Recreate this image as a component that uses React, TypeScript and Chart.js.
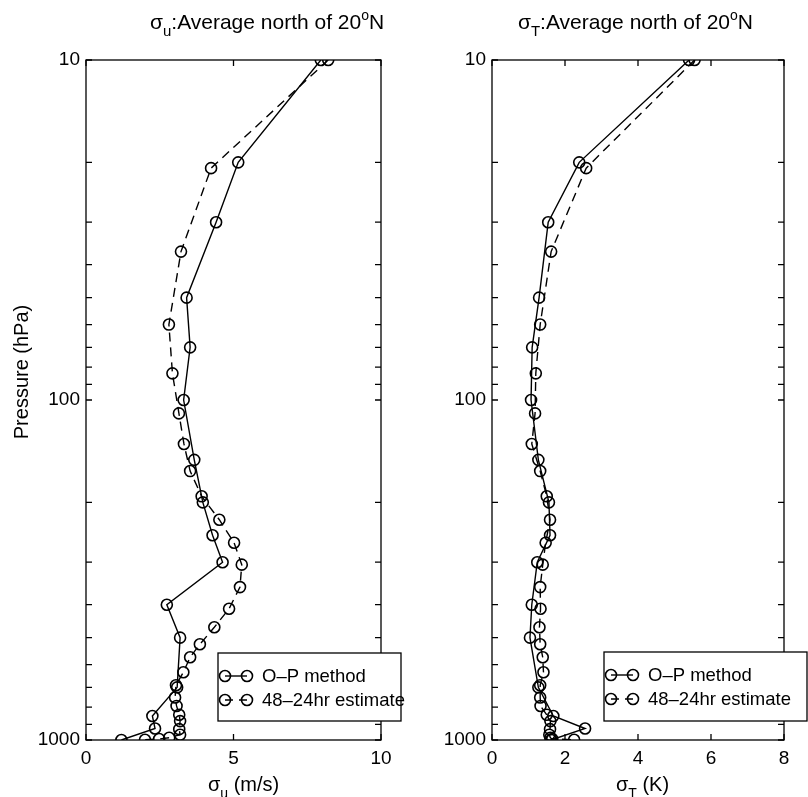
import React, { useEffect, useRef } from 'react';
import { Chart, registerables } from 'chart.js';

Chart.register(...registerables);

// ---------------- data ----------------
const pressureOP = [10, 20, 30, 50, 70, 100, 150, 200, 250, 300, 400, 500, 700, 850, 925, 1000];
const pressureEst = [10, 20.8, 36.6, 60, 83.5, 109.5, 134.7, 161.8, 192, 225, 263, 305, 355, 411, 466, 523, 571, 632, 690, 750, 794, 843, 880, 929, 965, 985, 993, 998];

const sigmaU_OP = [7.96, 5.16, 4.41, 3.41, 3.53, 3.31, 3.67, 3.96, 4.29, 4.63, 2.74, 3.19, 3.09, 2.25, 2.34, 1.2];
const sigmaU_Est = [8.21, 4.24, 3.22, 2.81, 2.93, 3.15, 3.32, 3.53, 3.92, 4.52, 5.02, 5.28, 5.22, 4.85, 4.35, 3.86, 3.53, 3.3, 3.05, 3.02, 3.07, 3.16, 3.19, 3.16, 3.19, 2.82, 2.48, 2.0];

const sigmaT_OP = [5.4, 2.39, 1.54, 1.29, 1.1, 1.07, 1.27, 1.56, 1.59, 1.24, 1.09, 1.04, 1.27, 1.68, 2.55, 1.62];
const sigmaT_Est = [5.55, 2.58, 1.62, 1.32, 1.2, 1.18, 1.09, 1.32, 1.5, 1.59, 1.47, 1.39, 1.32, 1.33, 1.3, 1.32, 1.39, 1.41, 1.32, 1.32, 1.33, 1.5, 1.6, 1.59, 1.57, 1.6, 1.65, 2.25];

const xTicksU = [0, 5, 10];
const xTicksT = [0, 2, 4, 6, 8];
const yTickValues = [10, 20, 30, 40, 50, 60, 70, 80, 90, 100, 200, 300, 400, 500, 600, 700, 800, 900, 1000];
const yTickLabels = [10, 100, 1000];
const legendLabels = ['O\u2013P method', '48\u201324hr estimate'];

const FONT = '"Liberation Sans", Arial, Helvetica, sans-serif';
const CH = 797;

type Part = { t: string; size: number; dy?: number };

function drawRich(ctx: CanvasRenderingContext2D, x: number, y: number, parts: Part[]) {
  ctx.textAlign = 'left';
  ctx.textBaseline = 'alphabetic';
  ctx.fillStyle = '#000';
  for (const p of parts) {
    ctx.font = `${p.size}px ${FONT}`;
    ctx.fillText(p.t, x, y + (p.dy || 0));
    x += ctx.measureText(p.t).width;
  }
}

type PanelProps = {
  left: number;
  cw: number;
  xMax: number;
  xTicks: number[];
  opVals: number[];
  estVals: number[];
  yAxisWidth: number;
  plotRight: number;
  sub: string;
  titleX: number;
  xTitleX: number;
  xUnit: string;
  showYTitle: boolean;
  legend: { x0: number; x1: number; y0: number; y1: number; m1: number; m2: number; tx: number };
};

function Panel(props: PanelProps) {
  const ref = useRef<HTMLCanvasElement | null>(null);
  useEffect(() => {
    const canvas = ref.current;
    if (!canvas) return;
    const {
      cw, xMax, xTicks, opVals, estVals, yAxisWidth, plotRight, sub, titleX, xTitleX, xUnit, showYTitle, legend,
    } = props;

    const decor = {
      id: 'decor',
      afterDraw(chart: any) {
        const ctx: CanvasRenderingContext2D = chart.ctx;
        const a = chart.chartArea;
        const xs = chart.scales.x;
        const ys = chart.scales.y;
        ctx.save();
        ctx.strokeStyle = '#000';
        ctx.lineWidth = 1.3;
        ctx.setLineDash([]);
        ctx.strokeRect(a.left, a.top, a.right - a.left, a.bottom - a.top);
        const tl = 6;
        ctx.beginPath();
        for (const v of yTickValues) {
          const y = ys.getPixelForValue(v);
          ctx.moveTo(a.left, y); ctx.lineTo(a.left + tl, y);
          ctx.moveTo(a.right, y); ctx.lineTo(a.right - tl, y);
        }
        for (const v of xTicks) {
          const x = xs.getPixelForValue(v);
          ctx.moveTo(x, a.bottom); ctx.lineTo(x, a.bottom - tl);
          ctx.moveTo(x, a.top); ctx.lineTo(x, a.top + tl);
        }
        ctx.stroke();

        // title
        drawRich(ctx, titleX, 29, [
          { t: '\u03c3', size: 21 },
          { t: sub, size: 15, dy: 7 },
          { t: ':Average north of 20', size: 21 },
          { t: 'o', size: 14, dy: -9 },
          { t: 'N', size: 21 },
        ]);
        // x title
        drawRich(ctx, xTitleX, 791, [
          { t: '\u03c3', size: 20 },
          { t: sub, size: 14, dy: 7 },
          { t: ' (' + xUnit + ')', size: 20 },
        ]);
        // y title
        if (showYTitle) {
          ctx.save();
          ctx.translate(22, 372);
          ctx.rotate(-Math.PI / 2);
          ctx.font = `20px ${FONT}`;
          ctx.textAlign = 'center';
          ctx.textBaseline = 'middle';
          ctx.fillStyle = '#000';
          ctx.fillText('Pressure (hPa)', 0, 0);
          ctx.restore();
        }

        // legend
        const L = legend;
        ctx.fillStyle = '#fff';
        ctx.fillRect(L.x0, L.y0, L.x1 - L.x0, L.y1 - L.y0);
        ctx.lineWidth = 1.3;
        ctx.strokeRect(L.x0, L.y0, L.x1 - L.x0, L.y1 - L.y0);
        const rows = [L.y0 + 23, L.y0 + 47];
        rows.forEach((ry, i) => {
          ctx.lineWidth = 1.4;
          ctx.setLineDash(i === 0 ? [] : [8, 6]);
          ctx.beginPath();
          ctx.moveTo(L.m1, ry); ctx.lineTo(L.m2, ry);
          ctx.stroke();
          ctx.setLineDash([]);
          ctx.lineWidth = 1.6;
          for (const mx of [L.m1, L.m2]) {
            ctx.beginPath();
            ctx.arc(mx, ry, 5.5, 0, Math.PI * 2);
            ctx.stroke();
          }
          ctx.font = `18.5px ${FONT}`;
          ctx.fillStyle = '#000';
          ctx.textAlign = 'left';
          ctx.textBaseline = 'middle';
          ctx.fillText(legendLabels[i], L.tx, ry + 1);
        });
        ctx.restore();
      },
    };

    const mk = (vals: number[], pres: number[]) => vals.map((v, i) => ({ x: v, y: pres[i] }));

    const chart = new Chart(canvas, {
      type: 'scatter',
      data: {
        datasets: [
          {
            label: legendLabels[0],
            data: mk(opVals, pressureOP),
            showLine: true,
            borderColor: '#000',
            borderWidth: 1.4,
            pointRadius: 5.5,
            pointBorderWidth: 1.6,
            pointBorderColor: '#000',
            pointBackgroundColor: 'rgba(0,0,0,0)',
          },
          {
            label: legendLabels[1],
            data: mk(estVals, pressureEst),
            showLine: true,
            borderColor: '#000',
            borderWidth: 1.4,
            borderDash: [9, 6],
            pointRadius: 5.5,
            pointBorderWidth: 1.6,
            pointBorderColor: '#000',
            pointBackgroundColor: 'rgba(0,0,0,0)',
          },
        ],
      },
      options: {
        animation: false,
        responsive: false,
        devicePixelRatio: 1,
        layout: { padding: { left: 0, top: 60, right: cw - plotRight, bottom: 0 } },
        plugins: { legend: { display: false }, tooltip: { enabled: false }, title: { display: false } },
        scales: {
          x: {
            type: 'linear',
            min: 0,
            max: xMax,
            afterBuildTicks: (s: any) => { s.ticks = xTicks.map((v) => ({ value: v })); },
            afterFit: (s: any) => { s.height = 57; },
            ticks: { font: { family: FONT, size: 19 }, color: '#000', padding: 7, maxRotation: 0, autoSkip: false },
            grid: { display: false, drawTicks: false },
            border: { display: false },
          },
          y: {
            type: 'logarithmic',
            reverse: true,
            min: 10,
            max: 1000,
            afterBuildTicks: (s: any) => { s.ticks = yTickValues.map((v) => ({ value: v })); },
            afterFit: (s: any) => { s.width = yAxisWidth; },
            ticks: {
              font: { family: FONT, size: 19 },
              color: '#000',
              padding: 6,
              autoSkip: false,
              callback: (v: any) => (yTickLabels.includes(Number(v)) ? String(v) : ''),
            },
            grid: { display: false, drawTicks: false },
            border: { display: false },
          },
        },
      },
      plugins: [decor],
    } as any);
    return () => chart.destroy();
  }, []);

  return (
    <canvas
      ref={ref}
      width={props.cw}
      height={CH}
      style={{ position: 'absolute', left: props.left, top: 0, width: props.cw, height: CH, display: 'block' }}
    />
  );
}

export default function App() {
  return (
    <div style={{ position: 'absolute', left: 0, top: 0, width: 808, height: 797, background: '#fff', overflow: 'hidden' }}>
      <Panel
        left={404}
        cw={404}
        xMax={8}
        xTicks={xTicksT}
        opVals={sigmaT_OP}
        estVals={sigmaT_Est}
        yAxisWidth={88}
        plotRight={380}
        sub="T"
        titleX={114}
        xTitleX={212}
        xUnit="K"
        showYTitle={false}
        legend={{ x0: 200, x1: 403, y0: 652, y1: 721, m1: 207, m2: 229, tx: 244 }}
      />
      <Panel
        left={0}
        cw={412}
        xMax={10}
        xTicks={xTicksU}
        opVals={sigmaU_OP}
        estVals={sigmaU_Est}
        yAxisWidth={86}
        plotRight={381}
        sub="u"
        titleX={150}
        xTitleX={208}
        xUnit="m/s"
        showYTitle={true}
        legend={{ x0: 218, x1: 401, y0: 653, y1: 721, m1: 225, m2: 247, tx: 262 }}
      />
    </div>
  );
}
